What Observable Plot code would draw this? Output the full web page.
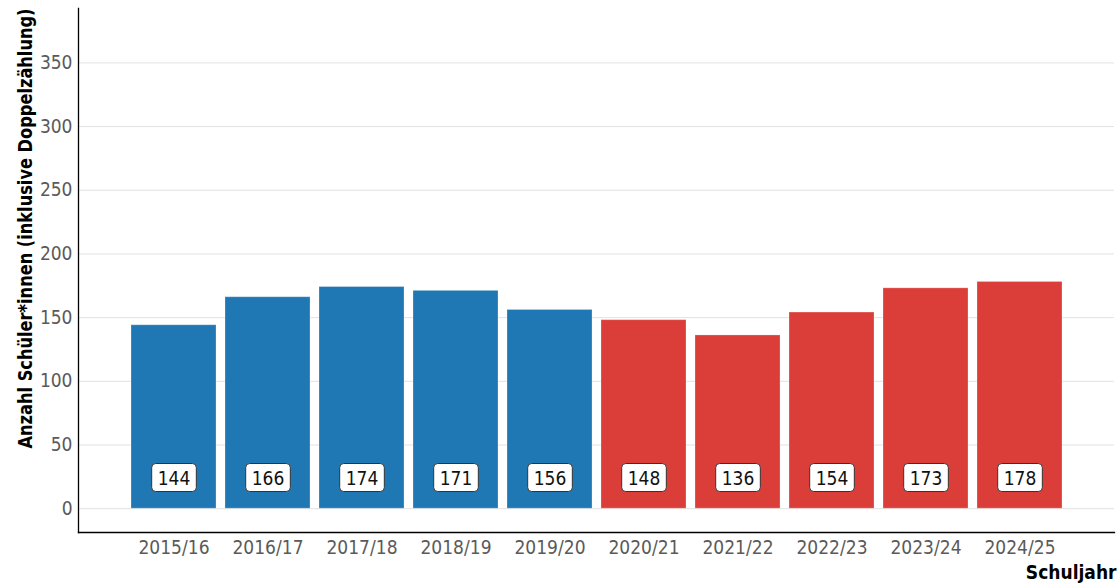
<!DOCTYPE html>
<html>
<head>
<meta charset="utf-8">
<script src="https://cdn.jsdelivr.net/npm/d3@7"></script>
<script src="https://cdn.jsdelivr.net/npm/@observablehq/plot@0.6"></script>
<style>
  html, body { margin: 0; padding: 0; background: #fff; }
  #chart svg { display: block; }
</style>
</head>
<body>
<div id="chart"></div>
<script>
const years = ["2015/16","2016/17","2017/18","2018/19","2019/20","2020/21","2021/22","2022/23","2023/24","2024/25"];
const counts = [144, 166, 174, 171, 156, 148, 136, 154, 173, 178];
const phases = ["A","A","A","A","A","B","B","B","B","B"];
const phaseNames = ["A","B"];
const phaseColors = ["#1f77b4", "#db3e39"];
const yTicks = [0, 50, 100, 150, 200, 250, 300, 350];
const yTitle = "Anzahl Schüler*innen (inklusive Doppelzählung)";
const xTitle = "Schuljahr";

const data = years.map((y, i) => ({year: y, count: counts[i], phase: phases[i]}));
const FONT = '"DejaVu Sans Condensed", "Liberation Sans Narrow", sans-serif';

const svg = Plot.plot({
  width: 1117,
  height: 583,
  marginLeft: 78,
  marginRight: 3,
  marginTop: 8,
  marginBottom: 51,
  style: {fontFamily: FONT, fontSize: "19px", background: "#fff", color: "#555"},
  x: {domain: years, paddingInner: 0.1, paddingOuter: 0.55, label: null},
  y: {domain: [-18.7, 392.7], label: null},
  color: {domain: phaseNames, range: phaseColors},
  marks: [
    Plot.gridY(yTicks, {stroke: "#e2e2e2", strokeOpacity: 1, strokeWidth: 1}),
    Plot.barY(data, {x: "year", y: "count", fill: "phase", stroke: "#fff", strokeOpacity: 0.25, strokeWidth: 1}),
    Plot.axisY(yTicks, {tickSize: 0, tickPadding: 6, fill: "#5a5a5a", label: null}),
    Plot.axisX({tickSize: 0, tickPadding: 8, fill: "#5a5a5a", label: null}),
    Plot.frame({anchor: "left", stroke: "#000", strokeWidth: 1.3}),
    Plot.frame({anchor: "bottom", stroke: "#000", strokeWidth: 1.3}),
    Plot.text(data, {x: "year", text: d => String(d.count), frameAnchor: "bottom", dy: -48, fill: "#111", fontSize: 19, className: "vlabel"}),
    Plot.text([yTitle], {text: d => d, frameAnchor: "left", textAnchor: "middle", rotate: -90, dx: -53, dy: -42, fill: "#000", fontWeight: "bold", fontSize: 19, className: "ytitle"}),
    Plot.text([xTitle], {text: d => d, frameAnchor: "bottom-right", textAnchor: "end", dx: 2, dy: 46, fill: "#000", fontWeight: "bold", fontSize: 19})
  ]
});
document.getElementById("chart").appendChild(svg);

// fit the y title to the reference length
d3.select(svg).selectAll("g.ytitle text").each(function() {
  const len = this.getComputedTextLength();
  if (len > 440) {
    this.setAttribute("textLength", 440);
    this.setAttribute("lengthAdjust", "spacingAndGlyphs");
  }
});

// rounded label boxes behind the value labels
d3.select(svg).selectAll("g.vlabel text").each(function() {
  const bb = this.getBBox();
  const w = bb.width + 12, h = 28;
  const cx = bb.x + bb.width / 2, cy = bb.y + bb.height / 2;
  const rect = document.createElementNS("http://www.w3.org/2000/svg", "rect");
  rect.setAttribute("x", cx - w / 2);
  rect.setAttribute("y", cy - h / 2);
  rect.setAttribute("width", w);
  rect.setAttribute("height", h);
  rect.setAttribute("rx", 4);
  rect.setAttribute("fill", "#fff");
  rect.setAttribute("stroke", "#333");
  rect.setAttribute("stroke-width", 1);
  if (this.getAttribute("transform")) rect.setAttribute("transform", this.getAttribute("transform"));
  this.parentNode.insertBefore(rect, this);
});
</script>
</body>
</html>
